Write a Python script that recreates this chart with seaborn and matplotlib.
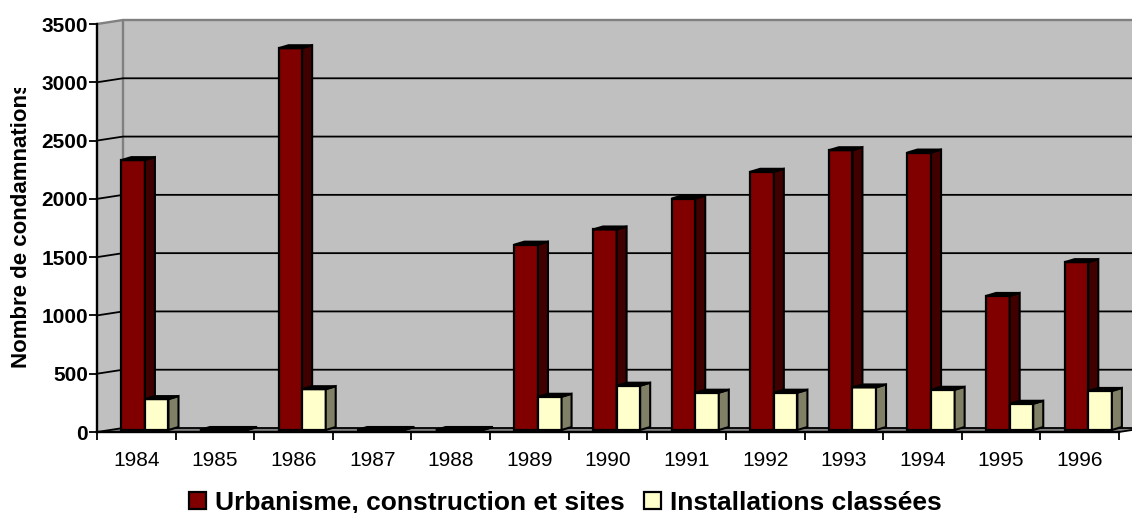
import numpy as np
import pandas as pd
import seaborn as sns
from matplotlib import pyplot as plt
from matplotlib.patches import Polygon
from matplotlib.transforms import Bbox

annees = ['1984', '1985', '1986', '1987', '1988', '1989', '1990', '1991', '1992', '1993', '1994', '1995', '1996']
urbanisme = [2315, 0, 3275, 0, 0, 1590, 1720, 1985, 2215, 2400, 2380, 1150, 1440]
installations = [265, 0, 350, 0, 0, 285, 380, 320, 320, 365, 345, 225, 335]
noms = ['Urbanisme, construction et sites', 'Installations classées']
yticks = [0, 500, 1000, 1500, 2000, 2500, 3000, 3500]

W, H = 1132, 513
sns.set_theme(style='white')
plt.rcParams['font.family'] = ['Liberation Sans', 'DejaVu Sans']

df = pd.DataFrame({
    'annee': annees * 2,
    'valeur': urbanisme + installations,
    'serie': [noms[0]] * len(annees) + [noms[1]] * len(annees),
})

fig = plt.figure(figsize=(W / 100, H / 100), dpi=100)
ax = fig.add_axes([97 / W, 1 - 432 / H, (1119 - 97) / W, (432 - 24) / H])
sns.barplot(data=df, x='annee', y='valeur', hue='serie', hue_order=noms,
            palette=['#800000', '#FFFFCC'], width=0.6, gap=0, dodge=True,
            saturation=1, edgecolor='black', linewidth=1.6, ax=ax)
ax.set_xlim(-0.5, 12.5)
ax.set_ylim(0, 3500)

# pixels -> data units, the chart is a fake 3D box
px = 13 / (1119 - 97)
py = 3500 / (432 - 24)
wx, wy = 26 * px, 4 * py
x0, x1 = -0.5, 12.5
ax.patch.set_visible(False)

# walls and floor
ax.add_patch(Polygon([(x0, 0), (x0 + wx, wy), (x1 + wx, wy), (x1 + wx, 3500 + wy), (x0 + wx, 3500 + wy), (x0, 3500)],
                     fc='#C0C0C0', ec='none', zorder=0, clip_on=False))
ax.add_patch(Polygon([(x0, 0), (x0 + wx, wy), (x1 + wx, wy), (x1, 0)],
                     fc='#808080', ec='none', zorder=0.5, clip_on=False))
ax.plot([x0, x0 + wx, x1 + wx], [3500, 3500 + wy, 3500 + wy], color='#808080', lw=1.7, zorder=1, clip_on=False)
ax.plot([x0 + wx, x0 + wx], [wy, 3500 + wy], color='#808080', lw=1.7, zorder=1, clip_on=False)
for v in yticks[:-1]:
    ax.plot([x0, x0 + wx, x1 + wx], [v, v + wy, v + wy], color='black', lw=1.3, zorder=1.5, clip_on=False)
ax.plot([x1, x1 + wx], [0, wy], color='black', lw=1.3, zorder=1.5, clip_on=False)

# side and top faces of the bars
shift, base = 8.6 * px, 2 * py
dx, dy = 10 * px, 3 * py
cotes = ['#400000', '#808066']
for i, cont in enumerate(ax.containers):
    for p in cont:
        p.set_x(p.get_x() + shift)
        p.set_y(base)
        p.set_zorder(3 + i)
        l, r, b, t = p.get_x(), p.get_x() + p.get_width(), base, base + p.get_height()
        ax.add_patch(Polygon([(r, b), (r + dx, b + dy), (r + dx, t + dy), (r, t)], fc=cotes[i], ec='black',
                             lw=1.5, zorder=3 + i, clip_on=False))
        ax.add_patch(Polygon([(l, t), (l + dx, t + dy), (r + dx, t + dy), (r, t)], fc='black', ec='black',
                             lw=1.5, zorder=3 + i, clip_on=False))

sns.despine(ax=ax)
ax.spines['left'].set(color='black', linewidth=1.7, zorder=6)
ax.spines['bottom'].set(color='black', linewidth=1.7, zorder=6)

# ticks sit between the years, the labels in the middle
ax.set_xticks(np.arange(-0.5, 13, 1))
ax.set_xticklabels([])
ax.set_xticks(range(len(annees)), labels=annees, minor=True)
ax.tick_params(axis='x', which='major', length=6, width=1.3, color='black', bottom=True)
ax.tick_params(axis='x', which='minor', length=0, pad=13.5, labelsize=15, labelcolor='black')
ax.set_yticks(yticks)
ax.tick_params(axis='y', length=5.5, width=1.3, color='black', left=True, pad=1, labelsize=15, labelcolor='black')
for t in ax.get_yticklabels():
    t.set_fontweight('bold')
ax.set_xlabel('')

ax.set_ylabel('Nombre de condamnations', fontsize=16, fontweight='bold', color='black')
ax.yaxis.set_label_coords((32 - 97) / (1119 - 97), (432 - 224.5) / 408)
ax.yaxis.label.set_clip_box(Bbox([[0, 0], [W, H - 88]]))
ax.yaxis.label.set_clip_on(True)

sns.move_legend(ax, 'center', bbox_to_anchor=(0.4584, -0.174), ncol=2, title=None, frameon=False,
                prop={'size': 19, 'weight': 'bold'}, handlelength=0.64, handleheight=0.64,
                handletextpad=0.35, columnspacing=0.73, borderpad=0)
for t in ax.get_legend().get_texts():
    t.set_color('black')

fig.savefig('out.png', dpi=100)
